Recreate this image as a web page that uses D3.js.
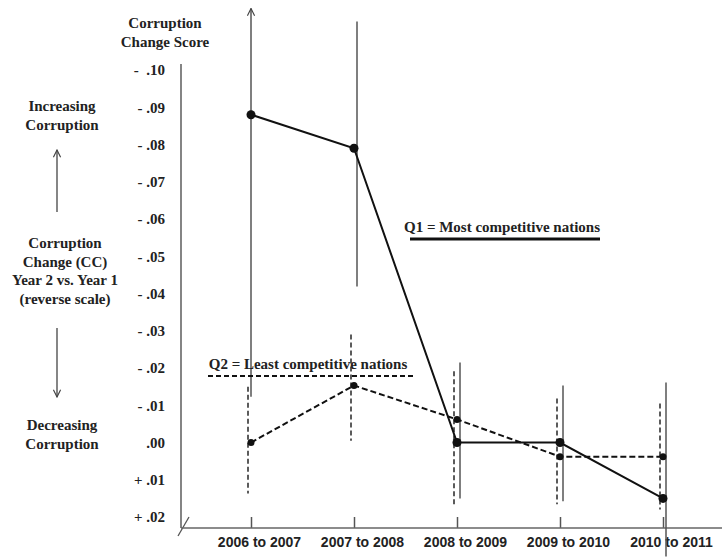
<!DOCTYPE html>
<html>
<head>
<meta charset="utf-8">
<script src="https://cdn.jsdelivr.net/npm/d3@7"></script>
<style>
  body { margin: 0; background: #fff; }
  svg { display: block; }
  .serif { font-family: "Liberation Serif", "Times New Roman", serif; font-weight: bold; fill: #222; }
</style>
</head>
<body>
<div id="chart"></div>
<script>
// categories and values (reverse scale: negative = more corruption, drawn upward)
const categories = ["2006 to 2007", "2007 to 2008", "2008 to 2009", "2009 to 2010", "2010 to 2011"];
const q1Values = [-0.088, -0.079, 0.000, 0.000, 0.015];
const q1Top    = [-0.1165, -0.113, -0.0215, -0.0153, -0.0161];
const q1Bottom = [-0.0123, -0.0419, 0.0150, 0.0158, 0.0306];
const q2Values = [0.000, -0.0153, -0.0062, 0.0038, 0.0038];
const q2Top    = [-0.0150, -0.0290, -0.0191, -0.0118, -0.0105];
const q2Bottom = [0.0137, -0.0005, 0.0172, 0.0166, 0.0180];
const yTicks = [-0.10, -0.09, -0.08, -0.07, -0.06, -0.05, -0.04, -0.03, -0.02, -0.01, 0.00, 0.01, 0.02];

const width = 725, height = 557;
const axisX = 181, axisY = 528;

const svg = d3.select("#chart").append("svg")
    .attr("width", width)
    .attr("height", height);

const x = d3.scalePoint()
    .domain(categories)
    .range([251, 663]);

const y = d3.scaleLinear()
    .domain([-0.10, 0.02])
    .range([70, 517]);

// arrow marker for truncated bars and side arrows
svg.append("defs").append("marker")
    .attr("id", "arrow")
    .attr("viewBox", "0 0 10 10")
    .attr("refX", 9).attr("refY", 5)
    .attr("markerWidth", 9).attr("markerHeight", 9)
    .attr("markerUnits", "userSpaceOnUse")
    .attr("orient", "auto")
    .append("path")
    .attr("d", "M1,1 L9,5 L1,9")
    .attr("fill", "none")
    .attr("stroke", "#444")
    .attr("stroke-width", 1.3);

// y axis line and labels
svg.append("line")
    .attr("x1", axisX).attr("x2", axisX)
    .attr("y1", 64).attr("y2", axisY)
    .attr("stroke", "#666").attr("stroke-width", 1.6);

function fmt(v) {
  const s = d3.format(".2f")(Math.abs(v)).replace(/^0/, "");
  if (Math.abs(v) < 1e-9) return s;
  if (v < 0) return (Math.abs(v) >= 0.1 ? "-  " : "- ") + s;
  return "+ " + s;
}

const yAxis = svg.append("g")
    .attr("transform", "translate(" + axisX + ",0)")
    .call(d3.axisLeft(y).tickValues(yTicks).tickSize(0).tickPadding(16).tickFormat(fmt));
yAxis.select(".domain").remove();
yAxis.selectAll("text")
    .attr("class", "serif")
    .style("font-size", "15px")
    .style("white-space", "pre")
    .attr("fill", "#222");

// axis break mark
svg.append("line")
    .attr("x1", 178).attr("y1", 536)
    .attr("x2", 189).attr("y2", 517)
    .attr("stroke", "#555").attr("stroke-width", 1.3);

// x axis
const xAxis = svg.append("g")
    .attr("transform", "translate(0," + axisY + ")")
    .call(d3.axisBottom(x).tickSize(-11).tickSizeOuter(0).tickPadding(9));
xAxis.select(".domain").remove();
xAxis.selectAll(".tick line").attr("stroke", "#555").attr("stroke-width", 1.5);
xAxis.selectAll("text")
    .attr("dx", 8)
    .attr("fill", "#222")
    .style("font-family", "'Liberation Sans', Arial, sans-serif")
    .style("font-weight", "bold")
    .style("font-size", "14px");
svg.append("line")
    .attr("x1", axisX).attr("x2", 722)
    .attr("y1", axisY).attr("y2", axisY)
    .attr("stroke", "#666").attr("stroke-width", 1.6);

// error bars
const q1Bars = categories.map((c, i) => ({c: c, top: q1Top[i], bottom: q1Bottom[i]}));
const q2Bars = categories.map((c, i) => ({c: c, top: q2Top[i], bottom: q2Bottom[i]}));

svg.append("g").selectAll("line")
    .data(q2Bars)
    .enter().append("line")
    .attr("x1", d => x(d.c) - 3).attr("x2", d => x(d.c) - 3)
    .attr("y1", d => y(d.top)).attr("y2", d => y(d.bottom))
    .attr("stroke", "#333").attr("stroke-width", 1.6)
    .attr("stroke-dasharray", "5,3");

svg.append("g").selectAll("line")
    .data(q1Bars)
    .enter().append("line")
    .attr("x1", (d, i) => x(d.c) + (i === 0 ? 0 : 3)).attr("x2", (d, i) => x(d.c) + (i === 0 ? 0 : 3))
    .attr("y1", d => y(d.bottom)).attr("y2", d => y(d.top))
    .attr("stroke", "#555").attr("stroke-width", 1.5)
    .attr("marker-end", (d, i) => i === 0 ? "url(#arrow)" : null);

// series lines
const q2Data = categories.map((c, i) => ({c: c, v: q2Values[i]}));
const q1Data = categories.map((c, i) => ({c: c, v: q1Values[i]}));
const line = d3.line().x(d => x(d.c)).y(d => y(d.v));

svg.append("path")
    .datum(q2Data)
    .attr("d", line)
    .attr("fill", "none")
    .attr("stroke", "#111").attr("stroke-width", 2)
    .attr("stroke-dasharray", "6,3");

svg.append("g").selectAll("circle")
    .data(q2Data)
    .enter().append("circle")
    .attr("cx", d => x(d.c)).attr("cy", d => y(d.v))
    .attr("r", 3.5).attr("fill", "#111");

svg.append("path")
    .datum(q1Data)
    .attr("d", line)
    .attr("fill", "none")
    .attr("stroke", "#111").attr("stroke-width", 2);

svg.append("g").selectAll("circle")
    .data(q1Data)
    .enter().append("circle")
    .attr("cx", d => x(d.c)).attr("cy", d => y(d.v))
    .attr("r", 4.5).attr("fill", "#111");

// legends
svg.append("text")
    .attr("class", "serif")
    .attr("x", 502).attr("y", 232)
    .attr("text-anchor", "middle")
    .style("font-size", "15px")
    .text("Q1 = Most competitive nations");
svg.append("line")
    .attr("x1", 410).attr("x2", 600)
    .attr("y1", 239).attr("y2", 239)
    .attr("stroke", "#111").attr("stroke-width", 3);

svg.append("text")
    .attr("class", "serif")
    .attr("x", 308).attr("y", 369)
    .attr("text-anchor", "middle")
    .style("font-size", "15px")
    .text("Q2 = Least competitive nations");
svg.append("line")
    .attr("x1", 208).attr("x2", 413)
    .attr("y1", 376).attr("y2", 376)
    .attr("stroke", "#111").attr("stroke-width", 2)
    .attr("stroke-dasharray", "5,3");

// axis title
svg.append("text")
    .attr("class", "serif")
    .attr("x", 165).attr("text-anchor", "middle")
    .style("font-size", "15px")
    .selectAll("tspan")
    .data(["Corruption", "Change Score"])
    .enter().append("tspan")
    .attr("x", 165)
    .attr("y", (d, i) => 28 + i * 19)
    .text(d => d);

// side annotations
function block(lines, cx, y0) {
  svg.append("text")
      .attr("class", "serif")
      .attr("text-anchor", "middle")
      .style("font-size", "15px")
      .selectAll("tspan")
      .data(lines)
      .enter().append("tspan")
      .attr("x", cx)
      .attr("y", (d, i) => y0 + i * 18.5)
      .text(d => d);
}
block(["Increasing", "Corruption"], 62, 111);
block(["Corruption", "Change (CC)", "Year 2 vs. Year 1", "(reverse scale)"], 65, 248);
block(["Decreasing", "Corruption"], 62, 430);

svg.append("line")
    .attr("x1", 57).attr("x2", 57)
    .attr("y1", 212).attr("y2", 150)
    .attr("stroke", "#444").attr("stroke-width", 1.3)
    .attr("marker-end", "url(#arrow)");
svg.append("line")
    .attr("x1", 57).attr("x2", 57)
    .attr("y1", 328).attr("y2", 397)
    .attr("stroke", "#444").attr("stroke-width", 1.3)
    .attr("marker-end", "url(#arrow)");
</script>
</body>
</html>
